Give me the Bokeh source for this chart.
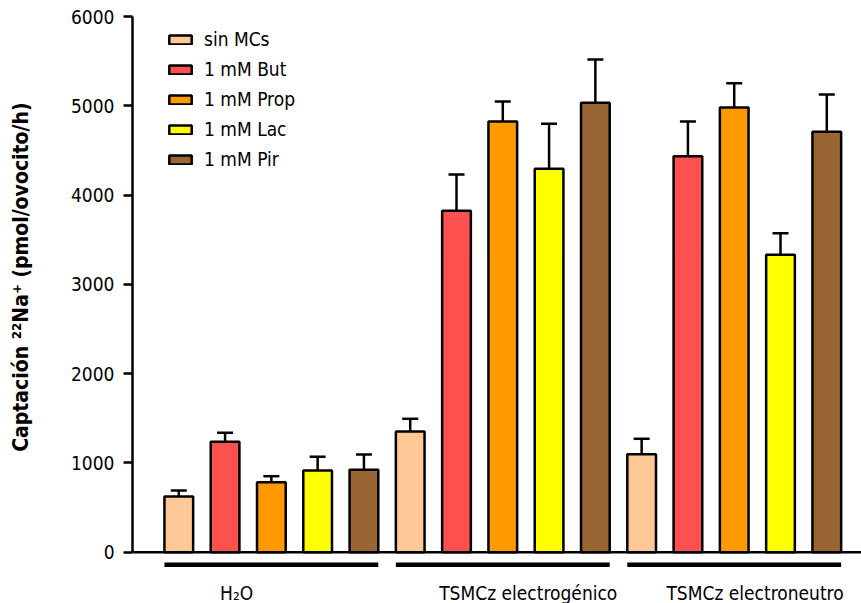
from bokeh.plotting import figure
from bokeh.models import (ColumnDataSource, Whisker, TeeHead, Span, Legend, LegendItem,
                          Range1d, FixedTicker)
from bokeh.core.properties import value
from bokeh.embed import file_html
from bokeh.resources import INLINE

# ---------------- data ----------------
groups = ["H₂O", "TSMCz electrogénico", "TSMCz electroneutro"]
series = ["sin MCs", "1 mM But", "1 mM Prop", "1 mM Lac", "1 mM Pir"]
colors = ["#FFC896", "#FF5050", "#FF9900", "#FFFF00", "#996633"]

sin_mcs = [624, 1352, 1098]
sin_mcs_err = [67, 142, 172]
but = [1237, 3824, 4435]
but_err = [100, 407, 389]
prop = [784, 4824, 4981]
prop_err = [67, 224, 272]
lac = [915, 4294, 3331]
lac_err = [154, 506, 242]
pir = [923, 5035, 4709]
pir_err = [171, 483, 418]

y_ticks = [0, 1000, 2000, 3000, 4000, 5000, 6000]
y_label = "Captación ²²Na⁺ (pmol/ovocito/h)"

means = [sin_mcs, but, prop, lac, pir]
errs = [sin_mcs_err, but_err, prop_err, lac_err, pir_err]

# ---------------- layout constants ----------------
FONT = "DejaVu Sans Condensed"
N_SER = len(series)
BAR_W = 0.62
label_offsets = [1.25, 2.55, 2.45]
# non-breaking padding so the title sits where the reference has it
LABEL_PAD = "\u00a0" * 10

p = figure(width=861, height=603, output_backend="svg", toolbar_location=None,
           x_range=Range1d(-1.0, 14.75), y_range=Range1d(-575, 6000),
           x_axis_location=None, min_border_left=132, min_border_right=0,
           min_border_top=16, min_border_bottom=0)
p.outline_line_color = None
p.grid.visible = False
p.background_fill_color = "white"
p.border_fill_color = "white"

legend_items = []
for s, (name, col) in enumerate(zip(series, colors)):
    xs = [g * N_SER + s for g in range(len(groups))]
    src = ColumnDataSource(dict(x=xs, top=means[s],
                                upper=[m + e for m, e in zip(means[s], errs[s])]))
    r = p.vbar(x="x", top="top", bottom=0, width=BAR_W, source=src,
               fill_color=col, line_color="black", line_width=2.5)
    legend_items.append(LegendItem(label=name, renderers=[r]))
    w = Whisker(base="x", lower="top", upper="upper", source=src,
                upper_head=TeeHead(size=16, line_width=2.5, line_color="black"),
                lower_head=None, line_width=2.5, line_color="black")
    p.add_layout(w)

# baseline (x axis line)
p.add_layout(Span(location=0, dimension="width", line_color="black", line_width=2.5))

# group underlines and labels
x0 = [g * N_SER - BAR_W / 2 for g in range(len(groups))]
x1 = [g * N_SER + (N_SER - 1) + BAR_W / 2 for g in range(len(groups))]
p.segment(x0=x0, y0=[-140] * 3, x1=x1, y1=[-140] * 3, line_color="black",
          line_width=4.5, line_cap="butt")
p.text(x=[g * N_SER + o for g, o in enumerate(label_offsets)], y=[-460] * 3, text=groups,
       text_font=value(FONT), text_font_size="19px", text_align="center",
       text_baseline="alphabetic", text_color="black")

# y axis
ax = p.yaxis[0]
ax.bounds = (0, 6000)
ax.ticker = FixedTicker(ticks=y_ticks)
ax.minor_tick_line_color = None
ax.major_tick_in = 0
ax.major_tick_out = 9
ax.major_tick_line_width = 2.5
ax.axis_line_width = 2.5
ax.axis_line_color = "black"
ax.major_tick_line_color = "black"
ax.major_label_text_font = FONT
ax.major_label_text_font_size = "19px"
ax.major_label_text_color = "black"
ax.major_label_standoff = 9
ax.axis_label = LABEL_PAD + y_label
ax.axis_label_text_font = FONT
ax.axis_label_text_font_size = "21px"
ax.axis_label_text_font_style = "bold"
ax.axis_label_text_color = "black"
ax.axis_label_standoff = 35

legend = Legend(items=legend_items, location=(34, 432), padding=0, margin=0,
                border_line_color=None, background_fill_alpha=0,
                glyph_width=28, glyph_height=11, label_height=24, spacing=6,
                label_standoff=10, label_text_font=FONT, label_text_font_size="19px",
                label_text_color="black")
p.add_layout(legend)

open("out.html", "w").write(file_html(p, INLINE))
